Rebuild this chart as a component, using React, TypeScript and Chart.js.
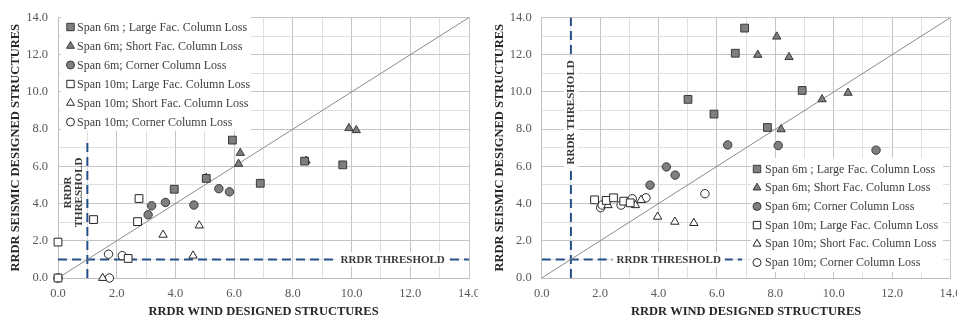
import React, { useEffect, useRef } from 'react';
import { Chart, registerables } from 'chart.js';

Chart.register(...registerables);

// ---------- shared labels ----------
const seriesLabels = [
  'Span 6m ; Large Fac. Column Loss',
  'Span 6m; Short Fac. Column Loss',
  'Span 6m; Corner Column Loss',
  'Span 10m; Large Fac. Column Loss',
  'Span 10m; Short Fac. Column Loss',
  'Span 10m; Corner Column Loss',
];
const xAxisTitle = 'RRDR WIND DESIGNED STRUCTURES';
const yAxisTitle = 'RRDR SEISMIC DESIGNED STRUCTURES';
const thresholdText = 'RRDR THRESHOLD';
const axisMin = 0;
const axisMax = 14;
const gridStep = 1;
const labelStep = 2;
const thresholdValue = 1;

// ---------- left chart data [wind, seismic] ----------
const leftSpan6Large = [[3.96, 4.77], [5.05, 5.35], [5.94, 7.41], [6.89, 5.09], [8.4, 6.28], [9.7, 6.08]];
const leftSpan6Short = [[5.05, 5.38], [6.15, 6.13], [6.21, 6.72], [8.45, 6.3], [9.91, 8.05], [10.16, 7.94]];
const leftSpan6Corner = [[3.07, 3.4], [3.19, 3.88], [3.66, 4.06], [4.63, 3.92], [5.48, 4.8], [5.84, 4.63]];
const leftSpan10Large = [[0, 0], [0, 1.93], [1.21, 3.14], [2.39, 1.05], [2.71, 3.03], [2.76, 4.27]];
const leftSpan10Short = [[1.52, 0], [3.58, 2.32], [4.6, 1.2], [4.81, 2.82]];
const leftSpan10Corner = [[0, 0], [1.72, 1.28], [1.75, 0], [2.19, 1.2]];
const leftVerticalThreshold = [[thresholdValue, 0], [thresholdValue, 7.4]];
const leftHorizontalThreshold = [[0, thresholdValue], [14, thresholdValue]];

// ---------- right chart data [wind, seismic] ----------
const rightSpan6Large = [[5.01, 9.6], [5.9, 8.81], [6.63, 12.08], [6.95, 13.43], [7.73, 8.09], [8.92, 10.08]];
const rightSpan6Short = [[7.4, 11.99], [8.05, 12.97], [8.2, 7.99], [8.47, 11.87], [9.6, 9.6], [10.49, 9.95]];
const rightSpan6Corner = [[3.71, 4.99], [4.27, 5.97], [4.57, 5.53], [6.37, 7.15], [8.1, 7.12], [11.45, 6.87]];
const rightSpan10Large = [[1.81, 4.2], [2.21, 4.17], [2.46, 4.31], [2.81, 4.13], [3.03, 4.04]];
const rightSpan10Short = [[2.27, 3.91], [3.21, 3.91], [3.4, 4.19], [3.97, 3.29], [4.56, 3.02], [5.21, 2.95]];
const rightSpan10Corner = [[2.02, 3.78], [2.07, 3.92], [2.72, 3.92], [3.1, 4.26], [3.57, 4.31], [5.59, 4.53]];
const rightVerticalThreshold = [[thresholdValue, 0], [thresholdValue, 14]];
const rightHorizontalThreshold = [[0, thresholdValue], [6.86, thresholdValue]];

const diagonal = [[axisMin, axisMin], [axisMax, axisMax]];

// ---------- styles ----------
const SERIF = "'Liberation Serif', 'Times New Roman', serif";
const GREY_FILL = '#7f7f7f';
const GREY_EDGE = '#3a3a3a';
const OPEN_FILL = '#ffffff';
const OPEN_EDGE = '#262626';
const THRESH_COLOR = '#24508a';

const markerStyles = [
  { shape: 'rect', fill: GREY_FILL, edge: GREY_EDGE, r: 5.5 },
  { shape: 'triangle', fill: GREY_FILL, edge: GREY_EDGE, r: 4.8 },
  { shape: 'circle', fill: GREY_FILL, edge: GREY_EDGE, r: 4.2 },
  { shape: 'rect', fill: OPEN_FILL, edge: OPEN_EDGE, r: 5.5 },
  { shape: 'triangle', fill: OPEN_FILL, edge: OPEN_EDGE, r: 4.8 },
  { shape: 'circle', fill: OPEN_FILL, edge: OPEN_EDGE, r: 4.2 },
];

const toXY = (arr: number[][]) => arr.map(([x, y]) => ({ x, y }));

function drawMarker(ctx: CanvasRenderingContext2D, shape: string, x: number, y: number, r: number, fill: string, edge: string) {
  ctx.save();
  ctx.beginPath();
  if (shape === 'rect') {
    const s = Math.SQRT1_2 * r;
    ctx.rect(x - s, y - s, 2 * s, 2 * s);
  } else if (shape === 'triangle') {
    ctx.moveTo(x, y - r);
    ctx.lineTo(x + r * 0.866, y + r * 0.5);
    ctx.lineTo(x - r * 0.866, y + r * 0.5);
    ctx.closePath();
  } else {
    ctx.arc(x, y, r, 0, Math.PI * 2);
  }
  ctx.fillStyle = fill;
  ctx.fill();
  ctx.lineWidth = 1;
  ctx.strokeStyle = edge;
  ctx.stroke();
  ctx.restore();
}

const boxLegendPlugin = {
  id: 'boxLegend',
  afterDatasetsDraw(chart: any, _args: any, opts: any) {
    const ctx: CanvasRenderingContext2D = chart.ctx;
    ctx.save();
    ctx.fillStyle = '#ffffff';
    ctx.fillRect(opts.x, opts.y, opts.w, opts.h);
    ctx.font = `12px ${SERIF}`;
    ctx.textBaseline = 'middle';
    ctx.textAlign = 'left';
    seriesLabels.forEach((label, i) => {
      const st = markerStyles[i];
      const cy = opts.firstY + i * opts.rowH;
      drawMarker(ctx, st.shape, opts.markerX, cy, st.r * 0.95, st.fill, st.edge);
      ctx.fillStyle = '#404040';
      ctx.fillText(label, opts.textX, cy + 0.5);
    });
    ctx.restore();
  },
};

const thresholdLabelPlugin = {
  id: 'thresholdLabels',
  afterDatasetsDraw(chart: any, _args: any, opts: any) {
    const ctx: CanvasRenderingContext2D = chart.ctx;
    const xs = chart.scales.x;
    const ys = chart.scales.y;
    ctx.save();
    ctx.font = `bold 11px ${SERIF}`;
    ctx.textAlign = 'center';
    ctx.textBaseline = 'middle';
    for (const lab of opts.items) {
      const px = xs.getPixelForValue(lab.x) + (lab.dx || 0);
      const py = ys.getPixelForValue(lab.y) + (lab.dy || 0);
      ctx.save();
      ctx.translate(px, py);
      if (lab.rotate) ctx.rotate(lab.rotate);
      const lines: string[] = lab.lines;
      const lh = 11.5;
      const startY = -((lines.length - 1) * lh) / 2;
      if (lab.bg) {
        const w = Math.max(...lines.map((t) => ctx.measureText(t).width)) + 8;
        ctx.fillStyle = '#ffffff';
        ctx.fillRect(-w / 2, startY - 7, w, (lines.length - 1) * lh + 14);
      }
      ctx.fillStyle = '#3a3a3a';
      lines.forEach((t, i) => ctx.fillText(t, 0, startY + i * lh + 0.5));
      ctx.restore();
    }
    ctx.restore();
  },
};

function makeConfig(side: 'left' | 'right') {
  const isLeft = side === 'left';
  const series = isLeft
    ? [leftSpan6Large, leftSpan6Short, leftSpan6Corner, leftSpan10Large, leftSpan10Short, leftSpan10Corner]
    : [rightSpan6Large, rightSpan6Short, rightSpan6Corner, rightSpan10Large, rightSpan10Short, rightSpan10Corner];
  const vThresh = isLeft ? leftVerticalThreshold : rightVerticalThreshold;
  const hThresh = isLeft ? leftHorizontalThreshold : rightHorizontalThreshold;

  const pointSets = series.map((pts, i) => ({
    type: 'scatter',
    label: seriesLabels[i],
    data: toXY(pts),
    pointStyle: markerStyles[i].shape,
    pointRadius: markerStyles[i].r,
    pointBackgroundColor: markerStyles[i].fill,
    pointBorderColor: markerStyles[i].edge,
    pointBorderWidth: 1,
    showLine: false,
    clip: false,
    order: 1,
  }));
  const lineSet = (data: number[][], color: string, width: number, dash: number[], label: string) => ({
    type: 'line',
    label,
    data: toXY(data),
    borderColor: color,
    borderWidth: width,
    borderDash: dash,
    pointRadius: 0,
    fill: false,
    showLine: true,
    order: 10,
  });

  const yWidth = isLeft ? 58 : 63.7;
  const rightPad = isLeft ? 9 : 4;

  const labelItems = isLeft
    ? [
        { x: thresholdValue, y: 4.6, dx: -14, dy: 0, rotate: -Math.PI / 2, lines: ['RRDR', 'THRESHOLD'], bg: false },
        { x: 11.4, y: thresholdValue, lines: [thresholdText], bg: true },
      ]
    : [
        { x: thresholdValue, y: 8.9, rotate: -Math.PI / 2, lines: [thresholdText], bg: true },
        { x: 4.35, y: thresholdValue, lines: [thresholdText], bg: true },
      ];

  const legendOpts = isLeft
    ? { x: 61, y: 16, w: 190, h: 115, firstY: 27, rowH: 19, markerX: 70.5, textX: 77 }
    : { x: 273, y: 158, w: 192, h: 114, firstY: 169, rowH: 18.7, markerX: 279, textX: 287 };

  const gridColor = (c: any) => (c.tick && Math.round(c.tick.value) % 2 === 0 ? '#c4c4c4' : '#e0e0e0');

  return {
    type: 'scatter',
    data: {
      datasets: [
        ...pointSets,
        lineSet(diagonal, '#8c8c8c', 1, [], 'diagonal'),
        lineSet(vThresh, THRESH_COLOR, 2, [9, 5], 'threshold-v'),
        lineSet(hThresh, THRESH_COLOR, 2, [9, 5], 'threshold-h'),
      ],
    },
    options: {
      animation: false,
      responsive: false,
      maintainAspectRatio: false,
      layout: { padding: { left: 0, right: rightPad, top: 15, bottom: 0 } },
      plugins: {
        legend: { display: false },
        tooltip: { enabled: false },
        boxLegend: legendOpts,
        thresholdLabels: { items: labelItems },
      },
      scales: {
        x: {
          type: 'linear',
          min: axisMin,
          max: axisMax,
          ticks: {
            stepSize: gridStep,
            autoSkip: false,
            maxRotation: 0,
            padding: 8,
            color: '#595959',
            font: { family: SERIF, size: 12.5 },
            callback: (v: any) => (Math.round(Number(v)) % labelStep === 0 ? Number(v).toFixed(1) : ''),
          },
          grid: { color: gridColor, drawTicks: false, lineWidth: 1 },
          border: { color: '#bfbfbf' },
          title: {
            display: true,
            text: xAxisTitle,
            color: '#262626',
            font: { family: SERIF, size: 12.5, weight: 'bold' },
            padding: { top: 0, bottom: 1 },
          },
          afterFit: (s: any) => {
            s.height = 42;
            s.paddingLeft = 0;
            s.paddingRight = 0;
          },
        },
        y: {
          type: 'linear',
          min: axisMin,
          max: axisMax,
          ticks: {
            stepSize: gridStep,
            autoSkip: false,
            padding: 10,
            color: '#595959',
            font: { family: SERIF, size: 12.5 },
            callback: (v: any) => (Math.round(Number(v)) % labelStep === 0 ? Number(v).toFixed(1) : ''),
          },
          grid: { color: gridColor, drawTicks: false, lineWidth: 1 },
          border: { color: '#bfbfbf' },
          title: {
            display: true,
            text: yAxisTitle,
            color: '#262626',
            font: { family: SERIF, size: 12.5, weight: 'bold' },
            padding: { top: isLeft ? 8 : 14, bottom: 0 },
          },
          afterFit: (s: any) => {
            s.width = yWidth;
          },
        },
      },
    },
    plugins: [boxLegendPlugin, thresholdLabelPlugin],
  };
}

function ChartPanel({ side, left, width }: { side: 'left' | 'right'; left: number; width: number }) {
  const ref = useRef<HTMLCanvasElement | null>(null);
  useEffect(() => {
    if (!ref.current) return;
    const chart = new Chart(ref.current, makeConfig(side) as any);
    return () => chart.destroy();
  }, [side]);
  return (
    <canvas
      ref={ref}
      width={width}
      height={320}
      style={{ position: 'absolute', left, top: 0, width, height: 320 }}
    />
  );
}

export default function App() {
  return (
    <div style={{ position: 'absolute', left: 0, top: 0, width: 957, height: 320, background: '#ffffff', overflow: 'hidden' }}>
      <ChartPanel side="left" left={0} width={478} />
      <ChartPanel side="right" left={478} width={479} />
    </div>
  );
}
